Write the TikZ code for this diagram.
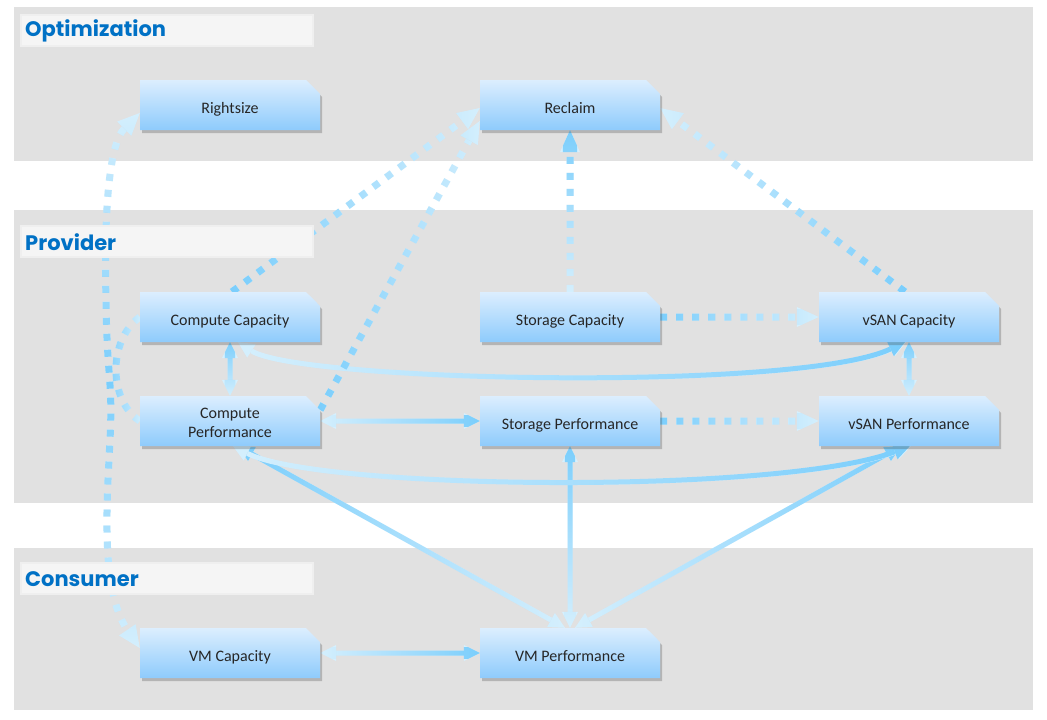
\documentclass[tikz,border=0pt]{standalone}
\usepackage{fontspec}
\setmainfont{Carlito}
\newfontfamily\titlefont{Poppins}
\usetikzlibrary{arrows.meta,shapes.misc,shadows,fadings}
\definecolor{band}{HTML}{E1E1E1}
\definecolor{tagfill}{HTML}{F5F5F5}
\definecolor{titleblue}{HTML}{0071C5}
\definecolor{boxtop}{HTML}{DCEEFE}
\definecolor{boxbot}{HTML}{8ECBFC}
\definecolor{lite}{HTML}{D6F0FE}
\definecolor{deep}{HTML}{7ACEFC}
\tikzfading[name=darkR,left color=transparent!100,right color=transparent!0]
\tikzfading[name=darkL,left color=transparent!0,right color=transparent!100]
\tikzfading[name=darkT,top color=transparent!0,bottom color=transparent!100]
\tikzfading[name=darkMid,top color=transparent!100,bottom color=transparent!100,middle color=transparent!0]
\pgfdeclarelayer{bands}\pgfdeclarelayer{wires}
\pgfsetlayers{bands,wires,main}
\tikzset{every node/.style={font=\fontsize{16}{19}\selectfont},
  box/.style={chamfered rectangle,chamfered rectangle corners=north east,
    chamfered rectangle sep=7pt,minimum width=180pt,minimum height=50pt,inner sep=0pt,
    top color=boxtop,bottom color=boxbot,draw=none,text=black!85,align=center,
    text height=17pt,text depth=1pt,
    drop shadow={shadow xshift=2pt,shadow yshift=-3pt,opacity=.3,fill=black!70}},
  tag/.style={anchor=north west,fill=tagfill,draw=tagfill!70!band,line width=1.5pt,
    minimum width=292pt,minimum height=31pt,inner sep=0pt},
  title/.style={anchor=west,text=titleblue,font=\titlefont\bfseries\fontsize{21}{24}\selectfont,
    inner sep=0pt,yshift=-1pt},
  flow/.style={draw=lite,line width=5pt,>={Triangle[length=16pt,width=16pt,line width=0pt]},
    postaction={draw=deep,path fading=#1}},
  hint/.style={draw=lite,line width=7pt,dash pattern=on 7pt off 9pt,
    >={Triangle[length=22pt,width=20pt,line width=0pt]},postaction={draw=deep,path fading=#1}}}

\begin{document}
\begin{tikzpicture}[x=1pt,y=-1pt]
\useasboundingbox (0,0) rectangle (1047,720);
\begin{pgfonlayer}{bands}
\fill[white] (0,0) rectangle (1047,720);
\fill[band] (14,7) rectangle (1033,161);
\fill[band] (14,210) rectangle (1033,503);
\fill[band] (14,548) rectangle (1033,710);
\end{pgfonlayer}
% section labels
\node[tag] (optTag) at (20,14) {};
\node[title] (optText) at ([xshift=5pt]optTag.west) {Optimization};
\node[tag] (provTag) at (20,225) {};
\node[title] (provText) at ([xshift=5pt]provTag.west) {Provider};
\node[tag] (consTag) at (20,562) {};
\node[title] (consText) at ([xshift=5pt]consTag.west) {Consumer};
% boxes
\node[box] (rsz) at (230,105) {Rightsize};
\node[box] (recl) at (570,105) {Reclaim};
\node[box] (ccap) at (230,317) {Compute Capacity};
\node[box] (scap) at (570,317) {Storage Capacity};
\node[box] (vcap) at (909,317) {vSAN Capacity};
\node[box,text height=33pt] (cperf) at (230,421) {Compute\\Performance};
\node[box] (sperf) at (570,421) {Storage Performance};
\node[box] (vperf) at (909,421) {vSAN Performance};
\node[box] (vmcap) at (230,653) {VM Capacity};
\node[box] (vmperf) at (570,653) {VM Performance};
\begin{pgfonlayer}{wires}
% solid links
\draw[flow=darkT,<->] (ccap) -- (cperf);
\draw[flow=darkT,<->] (vcap) -- (vperf);
\draw[flow=darkR,<->] (cperf) -- (sperf);
\draw[flow=darkR,<->] (vmcap) -- (vmperf);
\draw[flow=darkT,<->] (sperf) -- (vmperf);
\draw[flow=darkL,<->] ([xshift=8pt]cperf.south) -- ([xshift=-5pt]vmperf.north);
\draw[flow=darkR,<->] ([xshift=-8pt]vperf.south) -- ([xshift=5pt]vmperf.north);
\draw[flow=darkR,<->] ([xshift=8pt]ccap.south) .. controls (300,382) and (800,392) .. ([xshift=-3pt]vcap.south);
\draw[flow=darkR,<->] ([xshift=3pt]cperf.south) .. controls (320,490) and (780,495) .. ([xshift=2pt]vperf.south);
% dotted links
\draw[hint=darkMid,<->] ([yshift=-8pt]rsz.west) .. controls (108,145) and (104,220) .. (106,300)
  .. controls (107,380) and (113,380) .. (110,440) .. controls (107,500) and (100,590) .. ([yshift=5pt]vmcap.west);
\draw[hint=darkL] (ccap.west) .. controls (108,340) and (108,400) .. (cperf.west);
\draw[hint=darkL,->] ([xshift=2pt]ccap.north) -- ([yshift=-3pt]recl.west);
\draw[hint=darkL,->] ([yshift=11pt]cperf.east) -- ([yshift=-16pt]recl.west);
\draw[hint=darkT,->] (scap) -- (recl);
\draw[hint=darkR,->] ([xshift=-4pt]vcap.north) -- ([yshift=-3pt]recl.east);
\draw[hint=darkL,->] (scap) -- (vcap);
\draw[hint=darkL,->] (sperf) -- (vperf);
\end{pgfonlayer}
\end{tikzpicture}
\end{document}
